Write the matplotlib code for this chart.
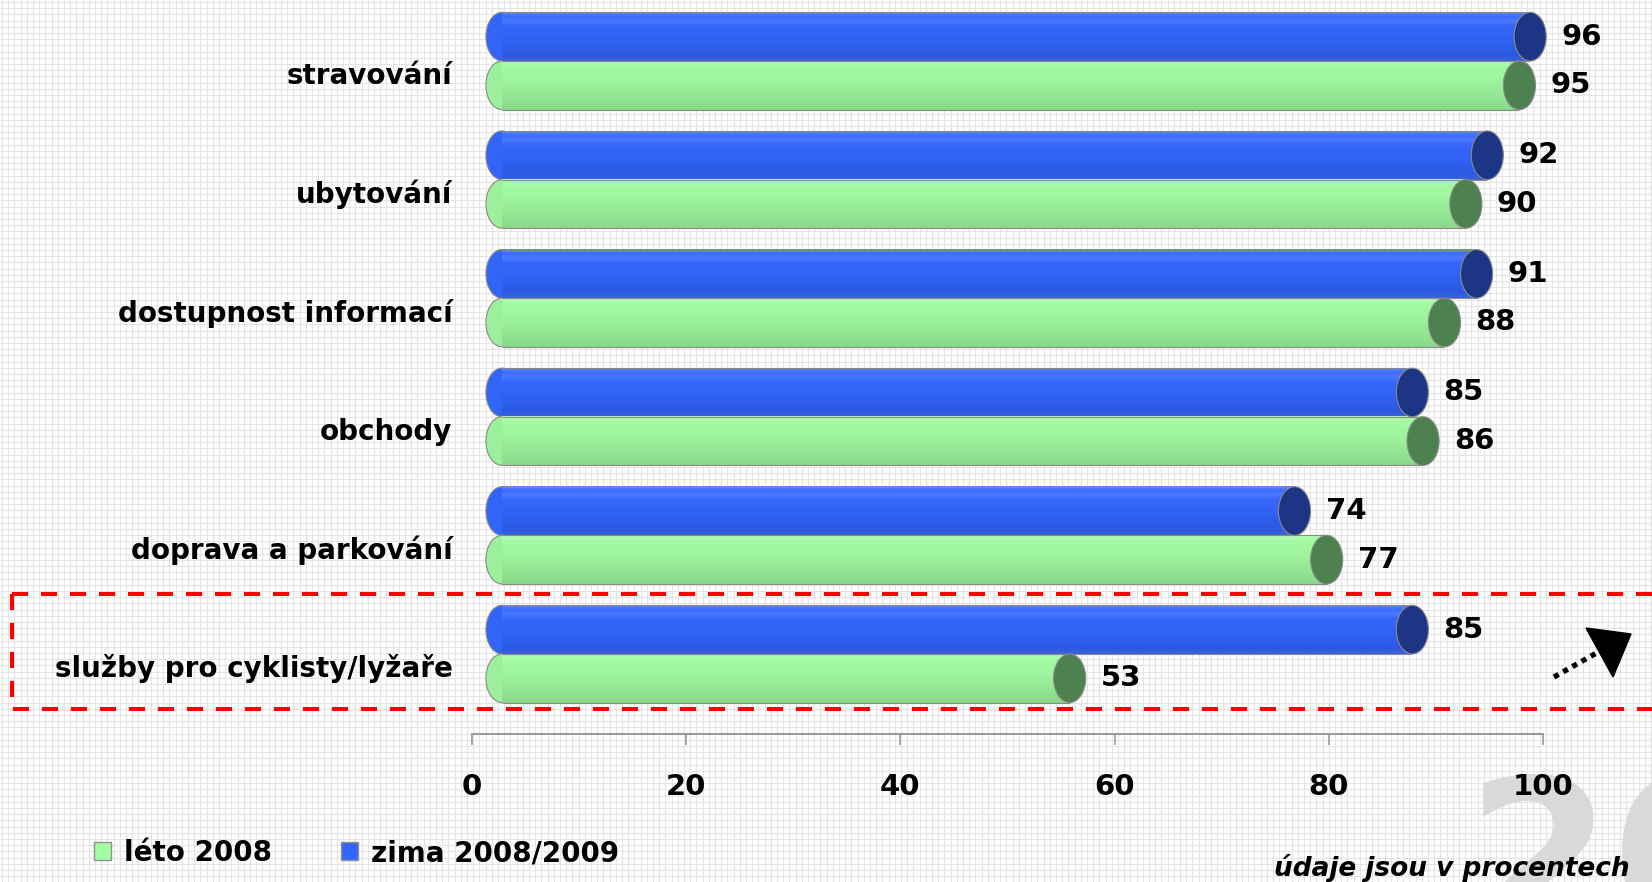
import numpy as np
import matplotlib
matplotlib.use('Agg')
import matplotlib.pyplot as plt
from matplotlib.patches import Rectangle, Ellipse, Polygon, Patch
from matplotlib.colors import LinearSegmentedColormap

# data
categories = ['stravování', 'ubytování', 'dostupnost informací', 'obchody',
              'doprava a parkování', 'služby pro cyklisty/lyžaře']
zima = [96, 92, 91, 85, 74, 85]   # zima 2008/2009
leto = [95, 90, 88, 86, 77, 53]   # léto 2008
xticks = [0, 20, 40, 60, 80, 100]
series_names = ['léto 2008', 'zima 2008/2009']

plt.rcParams['font.family'] = ['DejaVu Sans']
plt.rcParams['font.weight'] = 'bold'

W, H = 1652, 882
fig = plt.figure(figsize=(W / 100, H / 100), dpi=100)

# graph-paper background, pixel coordinates
bg = fig.add_axes([0, 0, 1, 1], zorder=0)
bg.set_xlim(0, W)
bg.set_ylim(H, 0)
bg.axis('off')
bg.vlines(np.arange(2, W, 6.2), 0, H, color='#e4e4e4', lw=0.8, zorder=1)
bg.hlines(np.arange(2, H, 6.2), 0, W, color='#e4e4e4', lw=0.8, zorder=1)

# big grey watermark in the corner
bg.text(1465, 930, '20', fontsize=152, fontweight='bold', color='#d9d9d9',
        ha='left', va='baseline', zorder=2)

# red dashed highlight box + dotted arrow
bg.add_patch(Rectangle((12, 594), W + 30, 115, fill=False, ec='#ff0000',
                       lw=2.9, ls=(0, (4, 3.2)), zorder=5))
bg.plot([1554, 1600], [677, 651], color='k', lw=3.8, ls=(0, (1, 1)),
        dash_capstyle='butt', zorder=5)
bg.add_patch(Polygon([(1586, 628), (1631, 634), (1613, 677)], closed=True,
                     fc='k', ec='k', zorder=5))

bg.text(1630, 876, 'údaje jsou v procentech', ha='right', va='baseline',
        fontsize=19, fontweight='bold', style='italic', zorder=5)

# main chart
ax = fig.add_axes([472 / W, 1 - 734 / H, (1543 - 472) / W, 734 / H], zorder=1)
ax.patch.set_visible(False)

blue_cmap = LinearSegmentedColormap.from_list('b', [
    (0, '#5a86ff'), (0.08, '#3d6cff'), (0.18, '#4a78ff'), (0.28, '#3667fb'),
    (0.6, '#3061f2'), (0.88, '#2b59e3'), (1, '#3a62d8')])
green_cmap = LinearSegmentedColormap.from_list('g', [
    (0, '#b0ffb0'), (0.12, '#a3faa3'), (0.35, '#a0f5a0'), (0.7, '#94e894'),
    (1, '#88d888')])
grad = np.linspace(0, 1, 64).reshape(-1, 1)

depth = 2.8     # pseudo-3D shift of the cylinders
cap_w = 3.0     # end cap width in data units
bar_h = 0.41
edge = '#8a8a8a'


def cylinder(y, v, cmap, body, cap):
    x0, x1 = depth, v + depth
    ax.add_patch(Ellipse((x0, y), cap_w, bar_h, fc=body, ec=edge, lw=0.8, zorder=2))
    ax.imshow(grad, cmap=cmap, extent=(x0, x1, y + bar_h / 2, y - bar_h / 2),
              aspect='auto', interpolation='bilinear', zorder=3)
    ax.hlines([y - bar_h / 2, y + bar_h / 2], x0, x1, colors=edge, lw=0.8, zorder=4)
    ax.add_patch(Ellipse((x1, y), cap_w, bar_h, fc=cap, ec=edge, lw=0.8,
                         zorder=5, clip_on=False))
    ax.text(x1 + cap_w / 2 + 1.4, y, str(v), ha='left', va='center',
            fontsize=21, fontweight='bold', clip_on=False)


pos = np.arange(len(categories))
for i in range(len(categories)):
    cylinder(pos[i] - bar_h / 2, zima[i], blue_cmap, '#3164f7', '#1d3585')
    cylinder(pos[i] + bar_h / 2, leto[i], green_cmap, '#9cf09c', '#4e8150')

ax.set_xlim(0, 100)
ax.set_ylim(5.675, -0.514)

for s in ['left', 'top', 'right']:
    ax.spines[s].set_visible(False)
ax.spines['bottom'].set_color('#999999')
ax.spines['bottom'].set_linewidth(1.4)

ax.set_xticks(xticks)
ax.set_xticklabels([str(t) for t in xticks], fontsize=21, fontweight='bold')
ax.tick_params(axis='x', direction='out', length=8, width=1.2, color='#999999', pad=20)
ax.set_yticks(pos + 0.1)
ax.set_yticklabels(categories, fontsize=20, fontweight='bold')
ax.tick_params(axis='y', length=0, pad=14)

# legend
handles = [Patch(fc='#a0ffa0', ec='#909090', lw=1),
           Patch(fc='#3366ff', ec='#909090', lw=1)]
fig.legend(handles, series_names, loc='center left',
           bbox_to_anchor=(94 / W, 1 - 853 / H), ncol=2, frameon=False,
           prop={'size': 20, 'weight': 'bold'}, handlelength=0.62,
           handleheight=0.62, handletextpad=0.45, columnspacing=2.5,
           borderpad=0, borderaxespad=0)

fig.savefig('out.png', dpi=100)
